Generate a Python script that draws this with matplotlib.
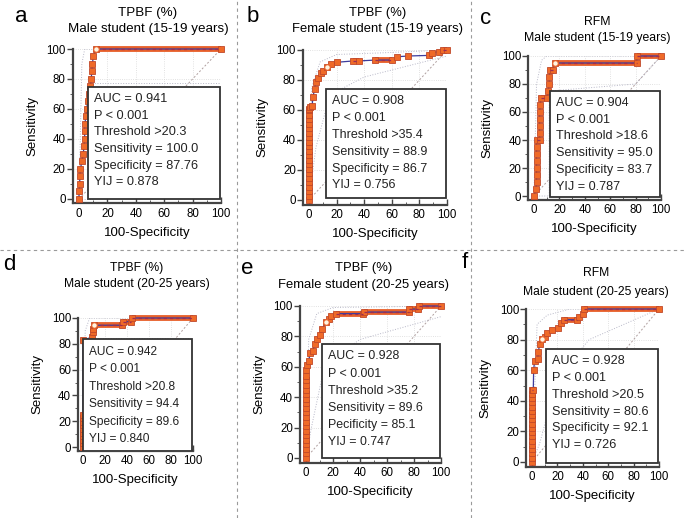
import numpy as np
import matplotlib
matplotlib.use("Agg")
import matplotlib.pyplot as plt
from matplotlib.patches import Rectangle

plt.rcParams['font.family'] = ['Liberation Sans', 'DejaVu Sans']

# panel texts
letters = ['a', 'b', 'c', 'd', 'e', 'f']
titles = ['TPBF (%)', 'TPBF (%)', 'RFM', 'TPBF (%)', 'TPBF (%)', 'RFM']
groups = ['Male student (15-19 years)', 'Female student (15-19 years)',
          'Male student (15-19 years)', 'Male student (20-25 years)',
          'Female student (20-25 years)', 'Male student (20-25 years)']
auc = ['0.941', '0.908', '0.904', '0.942', '0.928', '0.928']
thresh = ['>20.3', '>35.4', '>18.6', '>20.8', '>35.2', '>20.5']
sens = [100.0, 88.9, 95.0, 94.4, 89.6, 80.6]
spec = [87.76, 86.7, 83.7, 89.6, 85.1, 92.1]
spec_txt = ['87.76', '86.7', '83.7', '89.6', '85.1', '92.1']
spec_name = ['Specificity', 'Specificity', 'Specificity', 'Specificity',
             'Pecificity', 'Specificity']
yij = ['0.878', '0.756', '0.787', '0.840', '0.747', '0.726']

# ROC points (100-specificity, sensitivity)
roc_x_a = [0, 0, 0.5, 0.6, 1, 2, 3, 3.5, 4, 4, 4, 5, 5.5, 6, 7, 8, 8.6, 9, 9.5, 10, 12.2, 100]
roc_y_a = [0, 5, 10, 15, 20, 25, 30, 35, 40, 45, 50, 55, 60, 65, 70, 75, 80, 85, 90, 95, 100, 100]

roc_x_b = [0, 0, 0, 0, 0, 0, 0, 0, 0, 0, 0, 0, 0, 0, 0, 0, 0, 0, 0, 0, 0,
           0.3, 1, 2.2, 3, 4, 5, 6.7, 9, 10, 13.3, 15.6, 20, 32, 36, 48,
           60, 64, 72, 87, 89, 94, 97, 100]
roc_y_b = [0, 3, 6, 9, 12, 15, 18, 21, 24, 27, 30, 33, 36, 39, 42, 45, 48, 51, 54, 57, 60,
           61, 62, 62.7, 69, 74, 79, 81.5, 84.7, 86, 88.9, 91, 91.8, 92.7, 92.7, 93.3,
           93.3, 95.5, 96, 96.4, 98, 99, 100, 100]

roc_x_c = [0, 1.5, 2, 2, 2, 2, 2, 2, 2, 4.4, 4.4, 4.4, 4.4, 4.4, 5, 5.5, 10.5, 11.3, 12, 12,
           12.6, 15, 16.3, 81, 81, 100]
roc_y_c = [0, 5, 10, 15, 20, 25, 30, 35, 40, 40, 45, 50, 55, 60, 65, 70, 70, 75, 80, 85,
           90, 90, 95, 95, 100, 100]

roc_x_d = [0, 0, 0, 0, 0, 0, 0, 0, 0, 0, 0, 8, 9, 9.5, 10.4, 35, 36, 44, 44.6, 100]
roc_y_d = [0, 2.8, 5.6, 8.3, 11.1, 13.9, 16.7, 19.4, 22.2, 25, 83, 85, 88.9, 91.7, 94.4,
           94.4, 97.2, 97.2, 100, 100]

roc_x_e = [0, 0, 0, 0, 0, 0, 0, 0, 0, 0, 0, 0, 0, 0, 0, 0, 0, 0, 0, 0,
           1, 2, 3.2, 5, 6.5, 8.2, 10, 12, 14.9, 17, 18.8, 22, 42.5,
           43, 76, 76.5, 83, 84, 100]
roc_y_e = [0, 3, 6, 9, 12, 15, 18, 21, 24, 27, 30, 33, 36, 39, 42, 45, 48, 51, 54, 58,
           61.5, 64, 69, 70.5, 75, 78, 81, 85, 89.6, 91.7, 93.3, 95, 95,
           96, 96, 98, 98, 100, 100]

roc_x_f = [0, 0, 0, 0, 0, 0, 0, 0, 0, 0, 0, 0, 0, 0, 0, 0, 0, 0,
           1, 1.3, 2, 4.5, 5, 6, 7.9, 10.5, 11.5, 16, 20.7, 22.5, 25,
           35.6, 37, 40, 41, 100]
roc_y_f = [0, 2.8, 5.6, 8.3, 11.1, 13.9, 16.7, 19.4, 22.2, 25, 27.8, 30.6, 33.3, 36.1,
           38.9, 41.7, 44.4, 47.2, 47.2, 60, 66, 67, 72, 77, 80.6, 82, 84, 86, 87.5, 91, 93,
           93, 95, 97, 100, 100]

# faint confidence bounds
ci_up_x = [[0, 2, 4, 100], [0, 2, 8, 20, 50, 100], [0, 2, 6, 10, 100],
           [0, 2, 6, 100], [0, 2, 8, 20, 60, 100], [0, 4, 12, 30, 100]]
ci_up_y = [[0, 90, 100, 100], [0, 75, 92, 97, 98, 100], [0, 80, 97, 100, 100],
           [0, 90, 100, 100], [0, 78, 95, 99, 99.5, 100], [0, 90, 96, 100, 100]]
ci_lo_x = [[0, 10, 10, 100], [0, 5, 15, 40, 100], [0, 12, 12, 80, 100],
           [0, 10, 12, 100], [0, 4, 14, 40, 100], [0, 6, 20, 45, 100]]
ci_lo_y = [[0, 0, 77, 77], [0, 35, 70, 82, 96], [0, 0, 75, 80, 100],
           [0, 0, 84, 84], [0, 20, 62, 78, 93], [0, 12, 55, 80, 100]]

roc_x = [roc_x_a, roc_x_b, roc_x_c, roc_x_d, roc_x_e, roc_x_f]
roc_y = [roc_y_a, roc_y_b, roc_y_c, roc_y_d, roc_y_e, roc_y_f]

W, H = 685, 518
fig = plt.figure(figsize=(W / 100, H / 100), dpi=100)

# pixel spots of x=0, x=100, y=0, y=100 per panel
px = [(79, 221, 199, 49), (309, 447, 200, 50), (534, 661, 196, 56),
      (83, 193, 447, 318), (306, 441, 458, 306), (532, 659, 462, 309)]
boxes = [(0.105, 0.03, 0.755), (0.16, 0.04, 0.75), (0.16, 0.025, 0.76),
         (0.04, 0.0, 0.84), (0.155, 0.028, 0.756), (0.15, 0.02, 0.745)]
box_fs = [9.2, 9.0, 9.1, 8.6, 8.9, 9.1]
title_fs = [9.6, 9.4, 8.8, 8.7, 9.4, 8.7]
title_pos = [(148, 13, 29), (378, 13, 29), (597, 22, 38),
             (137, 268, 284), (364, 268, 285), (596, 273, 292)]
letter_pos = [(21, 17), (253, 17), (486, 19), (9, 265), (247, 268), (465, 263)]

xlo, ylo = -4.5, -3
for i in range(6):
    x0, x100, y0, y100 = px[i]
    sx = (x100 - x0) / 100.0
    sy = (y0 - y100) / 100.0
    left = x0 + xlo * sx
    bottom = y0 - ylo * sy
    w = (100 - xlo) * sx
    h = (100 - ylo) * sy
    ax = fig.add_axes([left / W, 1 - bottom / H, w / W, h / H])
    ax.set_xlim(xlo, 100)
    ax.set_ylim(ylo, 100)
    for s in ['top', 'right']:
        ax.spines[s].set_visible(False)
    for s in ['left', 'bottom']:
        ax.spines[s].set_color('#444444')
        ax.spines[s].set_linewidth(1.6)
    ax.set_xticks([0, 20, 40, 60, 80, 100])
    ax.set_yticks([0, 20, 40, 60, 80, 100])
    ax.set_xticks(np.arange(0, 101, 10), minor=True)
    ax.set_yticks(np.arange(0, 101, 10), minor=True)
    ax.tick_params(axis='x', direction='in', length=4, width=1, color='#444444',
                   labelsize=8.3, pad=3)
    ax.tick_params(axis='x', which='minor', direction='in', length=2.5, color='#444444')
    ax.tick_params(axis='y', direction='out', length=4, width=1, color='#444444',
                   labelsize=8.3, pad=1)
    ax.tick_params(axis='y', which='minor', direction='out', length=2, color='#444444')
    for g in [20, 40, 60, 80, 100]:
        ax.axhline(g, color='#d8d8d8', lw=0.6, ls=':', zorder=0)
        ax.axvline(g, color='#d8d8d8', lw=0.6, ls=':', zorder=0)
    ax.plot([0, 100], [0, 100], color='#b0a0a0', lw=0.7, ls=(0, (2, 2)), zorder=1)
    ax.plot(ci_up_x[i], ci_up_y[i], color='#b8b8c8', lw=0.7, ls=':', zorder=1)
    ax.plot(ci_lo_x[i], ci_lo_y[i], color='#b8b8c8', lw=0.7, ls=':', zorder=1)

    xs, ys = roc_x[i], roc_y[i]
    # flat runs of the curve are packed with markers -> draw as a thick band
    for k in range(len(xs) - 1):
        if ys[k] == ys[k + 1] and xs[k + 1] > xs[k]:
            ax.plot([xs[k], xs[k + 1]], [ys[k], ys[k + 1]], color='#e8612b', lw=4.2,
                    solid_capstyle='butt', zorder=3, clip_on=False)
            ax.plot([xs[k], xs[k + 1]], [ys[k], ys[k + 1]], color='#9a2d55', lw=0.9,
                    ls=(0, (2.5, 2.5)), zorder=5, clip_on=False)
    ax.plot(xs, ys, color='#3c3c9c', lw=0.9, zorder=4, clip_on=False,
            marker='s', ms=4.0, mfc='#ef6a28', mec='#c0482a', mew=0.6)
    ax.plot(100 - spec[i], sens[i], marker='o', ms=4, mfc='#fff4e0', mec='#e8622a',
            mew=0.8, zorder=6, clip_on=False)

    bl, bb, bt = boxes[i]
    ax.add_patch(Rectangle((bl, bb), 0.995 - bl, bt - bb, transform=ax.transAxes,
                           facecolor='white', edgecolor='#333333', lw=1.3, zorder=7))
    txt = ('AUC = %s\nP < 0.001\nThreshold %s\nSensitivity = %.1f\n%s = %s\nYIJ = %s'
           % (auc[i], thresh[i], sens[i], spec_name[i], spec_txt[i], yij[i]))
    fs_px = box_fs[i] / 72.0 * 100
    ax.annotate(txt, xy=(bl, bt), xycoords='axes fraction', xytext=(4.5, -4.5),
                textcoords='offset points', ha='left', va='top', fontsize=box_fs[i],
                linespacing=16.7 / (0.864 * fs_px), color='#222222', zorder=8)

    ax.set_ylabel('Sensitivity', fontsize=9.5, labelpad=6)
    ax.set_xlabel('100-Specificity', fontsize=9.5, labelpad=5)

    tx, ty1, ty2 = title_pos[i]
    fig.text(tx / W, 1 - ty1 / H, titles[i], ha='center', va='center', fontsize=title_fs[i])
    fig.text(tx / W, 1 - ty2 / H, groups[i], ha='center', va='center', fontsize=title_fs[i])
    lx, ly = letter_pos[i]
    fig.text(lx / W, 1 - ly / H, letters[i], ha='center', va='center', fontsize=16)

# dashed separators
sep = dict(color='#9a9a9a', lw=0.8, ls=(0, (3, 3)))
fig.add_artist(plt.Line2D([0, 1], [1 - 250 / H, 1 - 250 / H], transform=fig.transFigure, **sep))
fig.add_artist(plt.Line2D([237 / W, 237 / W], [0, 1], transform=fig.transFigure, **sep))
fig.add_artist(plt.Line2D([471 / W, 471 / W], [0, 1], transform=fig.transFigure, **sep))

fig.savefig('out.png', dpi=100)
